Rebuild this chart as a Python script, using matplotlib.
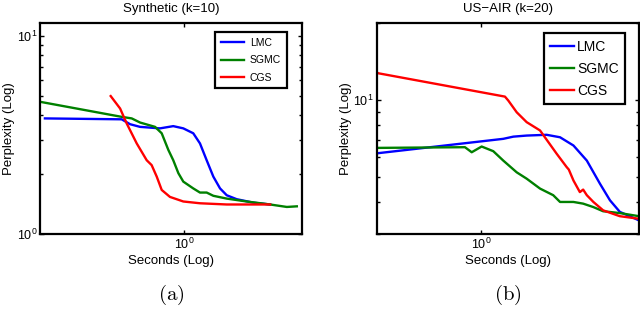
import matplotlib
matplotlib.use("Agg")
import matplotlib.pyplot as plt
from matplotlib.ticker import LogLocator, NullLocator, NullFormatter

plt.rcParams['font.family'] = ['Liberation Sans', 'DejaVu Sans']
plt.rcParams['mathtext.fontset'] = 'custom'
plt.rcParams['mathtext.rm'] = 'Liberation Sans'
plt.rcParams['mathtext.it'] = 'Liberation Sans:italic'
plt.rcParams['mathtext.bf'] = 'Liberation Sans:bold'

# ---- Panel (a): Synthetic (k=10) ----
a_lmc_x = [0.160, 0.439, 0.490, 0.559, 0.727, 0.865, 0.987, 1.125, 1.229, 1.342,
           1.465, 1.60, 1.747, 1.99, 2.48, 3.09]
a_lmc_y = [3.84, 3.80, 3.59, 3.48, 3.42, 3.51, 3.42, 3.23, 2.87, 2.36,
           1.95, 1.70, 1.57, 1.50, 1.44, 1.41]
a_sgmc_x = [0.150, 0.439, 0.501, 0.559, 0.681, 0.743, 0.811, 0.865, 0.925, 0.987,
            1.125, 1.229, 1.342, 1.465, 1.747, 2.27, 3.09, 3.85, 4.39]
a_sgmc_y = [4.66, 3.91, 3.84, 3.66, 3.48, 3.23, 2.66, 2.36, 2.03, 1.84,
            1.70, 1.62, 1.62, 1.56, 1.51, 1.46, 1.41, 1.37, 1.38]
a_cgs_x = [0.380, 0.430, 0.469, 0.535, 0.610, 0.651, 0.696, 0.743, 0.828, 0.987,
           1.229, 1.747, 3.09]
a_cgs_y = [4.98, 4.31, 3.62, 2.87, 2.36, 2.23, 1.95, 1.67, 1.54, 1.46,
           1.43, 1.41, 1.41]

# ---- Panel (b): US-AIR (k=20) ----
b_lmc_x = [0.400, 0.406, 1.215, 1.327, 1.492, 1.778, 2.00, 2.25, 2.53, 2.84,
           3.10, 3.38, 4.00]
b_lmc_y = [6.18, 6.20, 7.05, 7.19, 7.26, 7.31, 7.15, 6.64, 5.80, 4.71,
           4.06, 3.66, 3.39]
b_sgmc_x = [0.400, 0.406, 0.868, 0.921, 1.005, 1.113, 1.215, 1.367, 1.492, 1.678,
            1.884, 2.00, 2.25, 2.45, 2.68, 2.92, 3.38, 4.00]
b_sgmc_y = [6.50, 6.50, 6.54, 6.25, 6.58, 6.31, 5.80, 5.22, 4.93, 4.51,
            4.25, 4.00, 4.00, 3.94, 3.82, 3.68, 3.62, 3.52]
b_cgs_x = [0.400, 0.406, 1.233, 1.270, 1.367, 1.492, 1.678, 1.941, 2.12, 2.16,
           2.25, 2.38, 2.45, 2.53, 2.68, 2.92, 3.38, 4.00]
b_cgs_y = [12.8, 12.7, 10.3, 9.94, 8.95, 8.19, 7.60, 6.17, 5.47, 5.35,
           4.85, 4.37, 4.47, 4.25, 4.00, 3.71, 3.52, 3.44]

labels = ["LMC", "SGMC", "CGS"]
colors = ["#0000ff", "#008000", "#ff0000"]

fig = plt.figure(figsize=(6.4, 3.32), dpi=100)
W, H = 640, 332

def make_axes(x0, x1, y0, y1):
    return fig.add_axes([x0 / W, 1 - y1 / H, (x1 - x0) / W, (y1 - y0) / H])

axA = make_axes(40, 302, 22.7, 234)
axB = make_axes(376.7, 639, 22.7, 234)

panels = [
    (axA, [(a_lmc_x, a_lmc_y), (a_sgmc_x, a_sgmc_y), (a_cgs_x, a_cgs_y)],
     "Synthetic (k=10)", (0.15, 4.7), (1.0, 11.7), 7.5, "(a)",
     dict(labelspacing=0.7, borderpad=0.55, handlelength=2.25,
          handletextpad=0.55, bbox=(286.7, 32.3))),
    (axB, [(b_lmc_x, b_lmc_y), (b_sgmc_x, b_sgmc_y), (b_cgs_x, b_cgs_y)],
     "US\u2212AIR (k=20)", (0.4, 4.0), (3.0, 20.0), 10.0, "(b)",
     dict(labelspacing=0.6, borderpad=0.45, handlelength=1.7,
          handletextpad=0.25, bbox=(625, 33.3))),
]

for ax, series, title, xl, yl, legfs, cap, lk in panels:
    for (xs, ys), lab, c in zip(series, labels, colors):
        ax.plot(xs, ys, color=c, lw=1.7, label=lab, solid_joinstyle='round')
    ax.set_xscale('log')
    ax.set_yscale('log')
    ax.set_xlim(*xl)
    ax.set_ylim(*yl)
    ax.xaxis.set_major_locator(LogLocator(base=10, numticks=10))
    ax.xaxis.set_minor_locator(NullLocator())
    ax.yaxis.set_major_locator(LogLocator(base=10, numticks=10))
    ax.yaxis.set_minor_locator(LogLocator(base=10, subs=range(2, 10), numticks=10))
    ax.yaxis.set_minor_formatter(NullFormatter())
    ax.tick_params(which='both', direction='in', top=True, right=True,
                   labelsize=9, width=1.0, pad=2)
    ax.tick_params(which='major', length=3)
    ax.tick_params(which='minor', length=2)
    for sp in ax.spines.values():
        sp.set_linewidth(1.6)
    ax.set_title(title, fontsize=9.5, pad=8)
    ax.set_xlabel("Seconds (Log)", fontsize=9.5, labelpad=2)
    ax.set_ylabel("Perplexity (Log)", fontsize=9.5, labelpad=1)
    bx, by = lk.pop('bbox')
    leg = ax.legend(loc='upper right', fontsize=legfs, fancybox=False,
                    framealpha=1, edgecolor='black',
                    bbox_to_anchor=(bx / W, 1 - by / H),
                    bbox_transform=fig.transFigure, borderaxespad=0, **lk)
    leg.get_frame().set_linewidth(1.6)
    pos = ax.get_position()
    fig.text((pos.x0 + pos.x1) / 2, 1 - 295 / H, r'$\mathrm{' + cap + '}$',
             ha='center', va='center', fontsize=15, math_fontfamily='cm')

fig.savefig("out.png", dpi=100)
